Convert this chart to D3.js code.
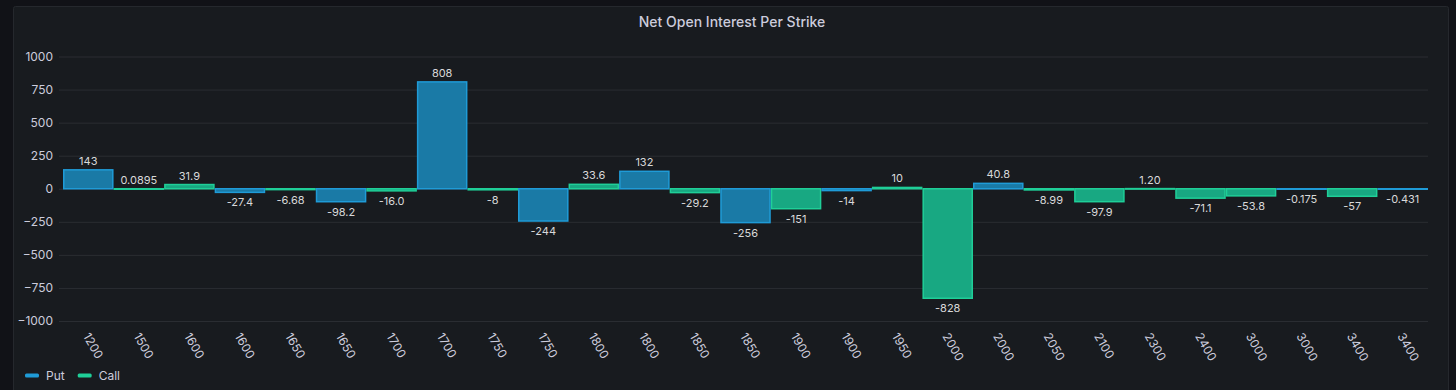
<!DOCTYPE html>
<html>
<head>
<meta charset="utf-8">
<script src="https://cdn.jsdelivr.net/npm/d3@7"></script>
<style>
  html, body { margin: 0; padding: 0; background: #111217; }
  svg { display: block; font-family: Inter, "Open Sans", sans-serif; }
</style>
</head>
<body>
<svg id="chart" width="1456" height="390"></svg>
<script>
const strikes = ["1200","1500","1600","1600","1650","1650","1700","1700","1750","1750","1800","1800","1850","1850","1900","1900","1950","2000","2000","2050","2100","2300","2400","3000","3000","3400","3400"];
const values  = [143, 0.0895, 31.9, -27.4, -6.68, -98.2, -16.0, 808, -8, -244, 33.6, 132, -29.2, -256, -151, -14, 10, -828, 40.8, -8.99, -97.9, 1.20, -71.1, -53.8, -0.175, -57, -0.431];
const labels  = ["143","0.0895","31.9","-27.4","-6.68","-98.2","-16.0","808","-8","-244","33.6","132","-29.2","-256","-151","-14","10","-828","40.8","-8.99","-97.9","1.20","-71.1","-53.8","-0.175","-57","-0.431"];
const types   = ["Put","Call","Call","Put","Call","Put","Call","Put","Call","Put","Call","Put","Call","Put","Call","Put","Call","Call","Put","Call","Call","Call","Call","Call","Put","Call","Put"];
const yTicks  = [-1000, -750, -500, -250, 0, 250, 500, 750, 1000];
const seriesNames = ["Put", "Call"];

const fillColor   = { Put: "#1a7aa6", Call: "#18a882" };
const strokeColor = { Put: "#1f9bd7", Call: "#1fcf98" };

const svg = d3.select("#chart");

// panel
svg.append("rect").attr("x", 13.5).attr("y", 6.5).attr("width", 1435).attr("height", 400)
  .attr("rx", 2).attr("fill", "#181b1f").attr("stroke", "#25282d");

// title
svg.append("text").attr("x", 732).attr("y", 27).attr("text-anchor", "middle")
  .attr("fill", "#ccccdc").attr("font-size", 14).attr("font-weight", 500)
  .text("Net Open Interest Per Strike");

const idx = d3.range(strikes.length);
const x = d3.scaleBand().domain(idx).range([63, 1428]).padding(0);
const y = d3.scaleLinear().domain([-1000, 1000]).range([321, 56.5]);

// grid + y labels
const yAxis = d3.axisLeft(y).tickValues(yTicks).tickSize(-(1428 - 59)).tickPadding(6).tickFormat(d3.format("d"));
const gy = svg.append("g").attr("transform", "translate(59,0)").call(yAxis);
gy.select(".domain").remove();
gy.selectAll(".tick line").attr("stroke", "#2a2d32").attr("stroke-width", 1);
gy.selectAll(".tick text").attr("fill", "#ccccdc").attr("font-size", 12).attr("font-family", "Inter, sans-serif");

// bars
const bars = svg.append("g");
idx.forEach(i => {
  const v = values[i];
  const y0 = y(0), y1 = y(v);
  const top = Math.min(y0, y1), h = Math.abs(y1 - y0);
  bars.append("rect")
    .attr("x", x(i) + 0.75).attr("y", top)
    .attr("width", x.bandwidth() - 1.5).attr("height", Math.max(h, 0.5))
    .attr("fill", fillColor[types[i]])
    .attr("stroke", strokeColor[types[i]]).attr("stroke-width", 1.5);
});

// value labels
const vl = svg.append("g");
idx.forEach(i => {
  const v = values[i];
  const ty = v >= 0 ? y(v) - 5 : y(v) + 14;
  vl.append("text").attr("x", x(i) + x.bandwidth() / 2).attr("y", ty)
    .attr("text-anchor", "middle").attr("fill", "#d8d9da").attr("font-size", 11)
    .text(labels[i]);
});

// x labels
const xl = svg.append("g");
idx.forEach(i => {
  const cx = x(i) + x.bandwidth() / 2 - 2;
  xl.append("text")
    .attr("transform", `translate(${cx},334) rotate(60)`)
    .attr("text-anchor", "start").attr("dy", "0.35em")
    .attr("fill", "#ccccdc").attr("font-size", 12)
    .text(strikes[i]);
});

// legend
const lg = svg.append("g");
let lx = 25;
seriesNames.forEach(s => {
  lg.append("rect").attr("x", lx).attr("y", 373.5).attr("width", 14).attr("height", 4).attr("rx", 1.5)
    .attr("fill", strokeColor[s]);
  const t = lg.append("text").attr("x", lx + 21).attr("y", 379.5).attr("fill", "#ccccdc").attr("font-size", 12).text(s);
  lx += 21 + t.node().getComputedTextLength() + 13;
});
</script>
</body>
</html>
